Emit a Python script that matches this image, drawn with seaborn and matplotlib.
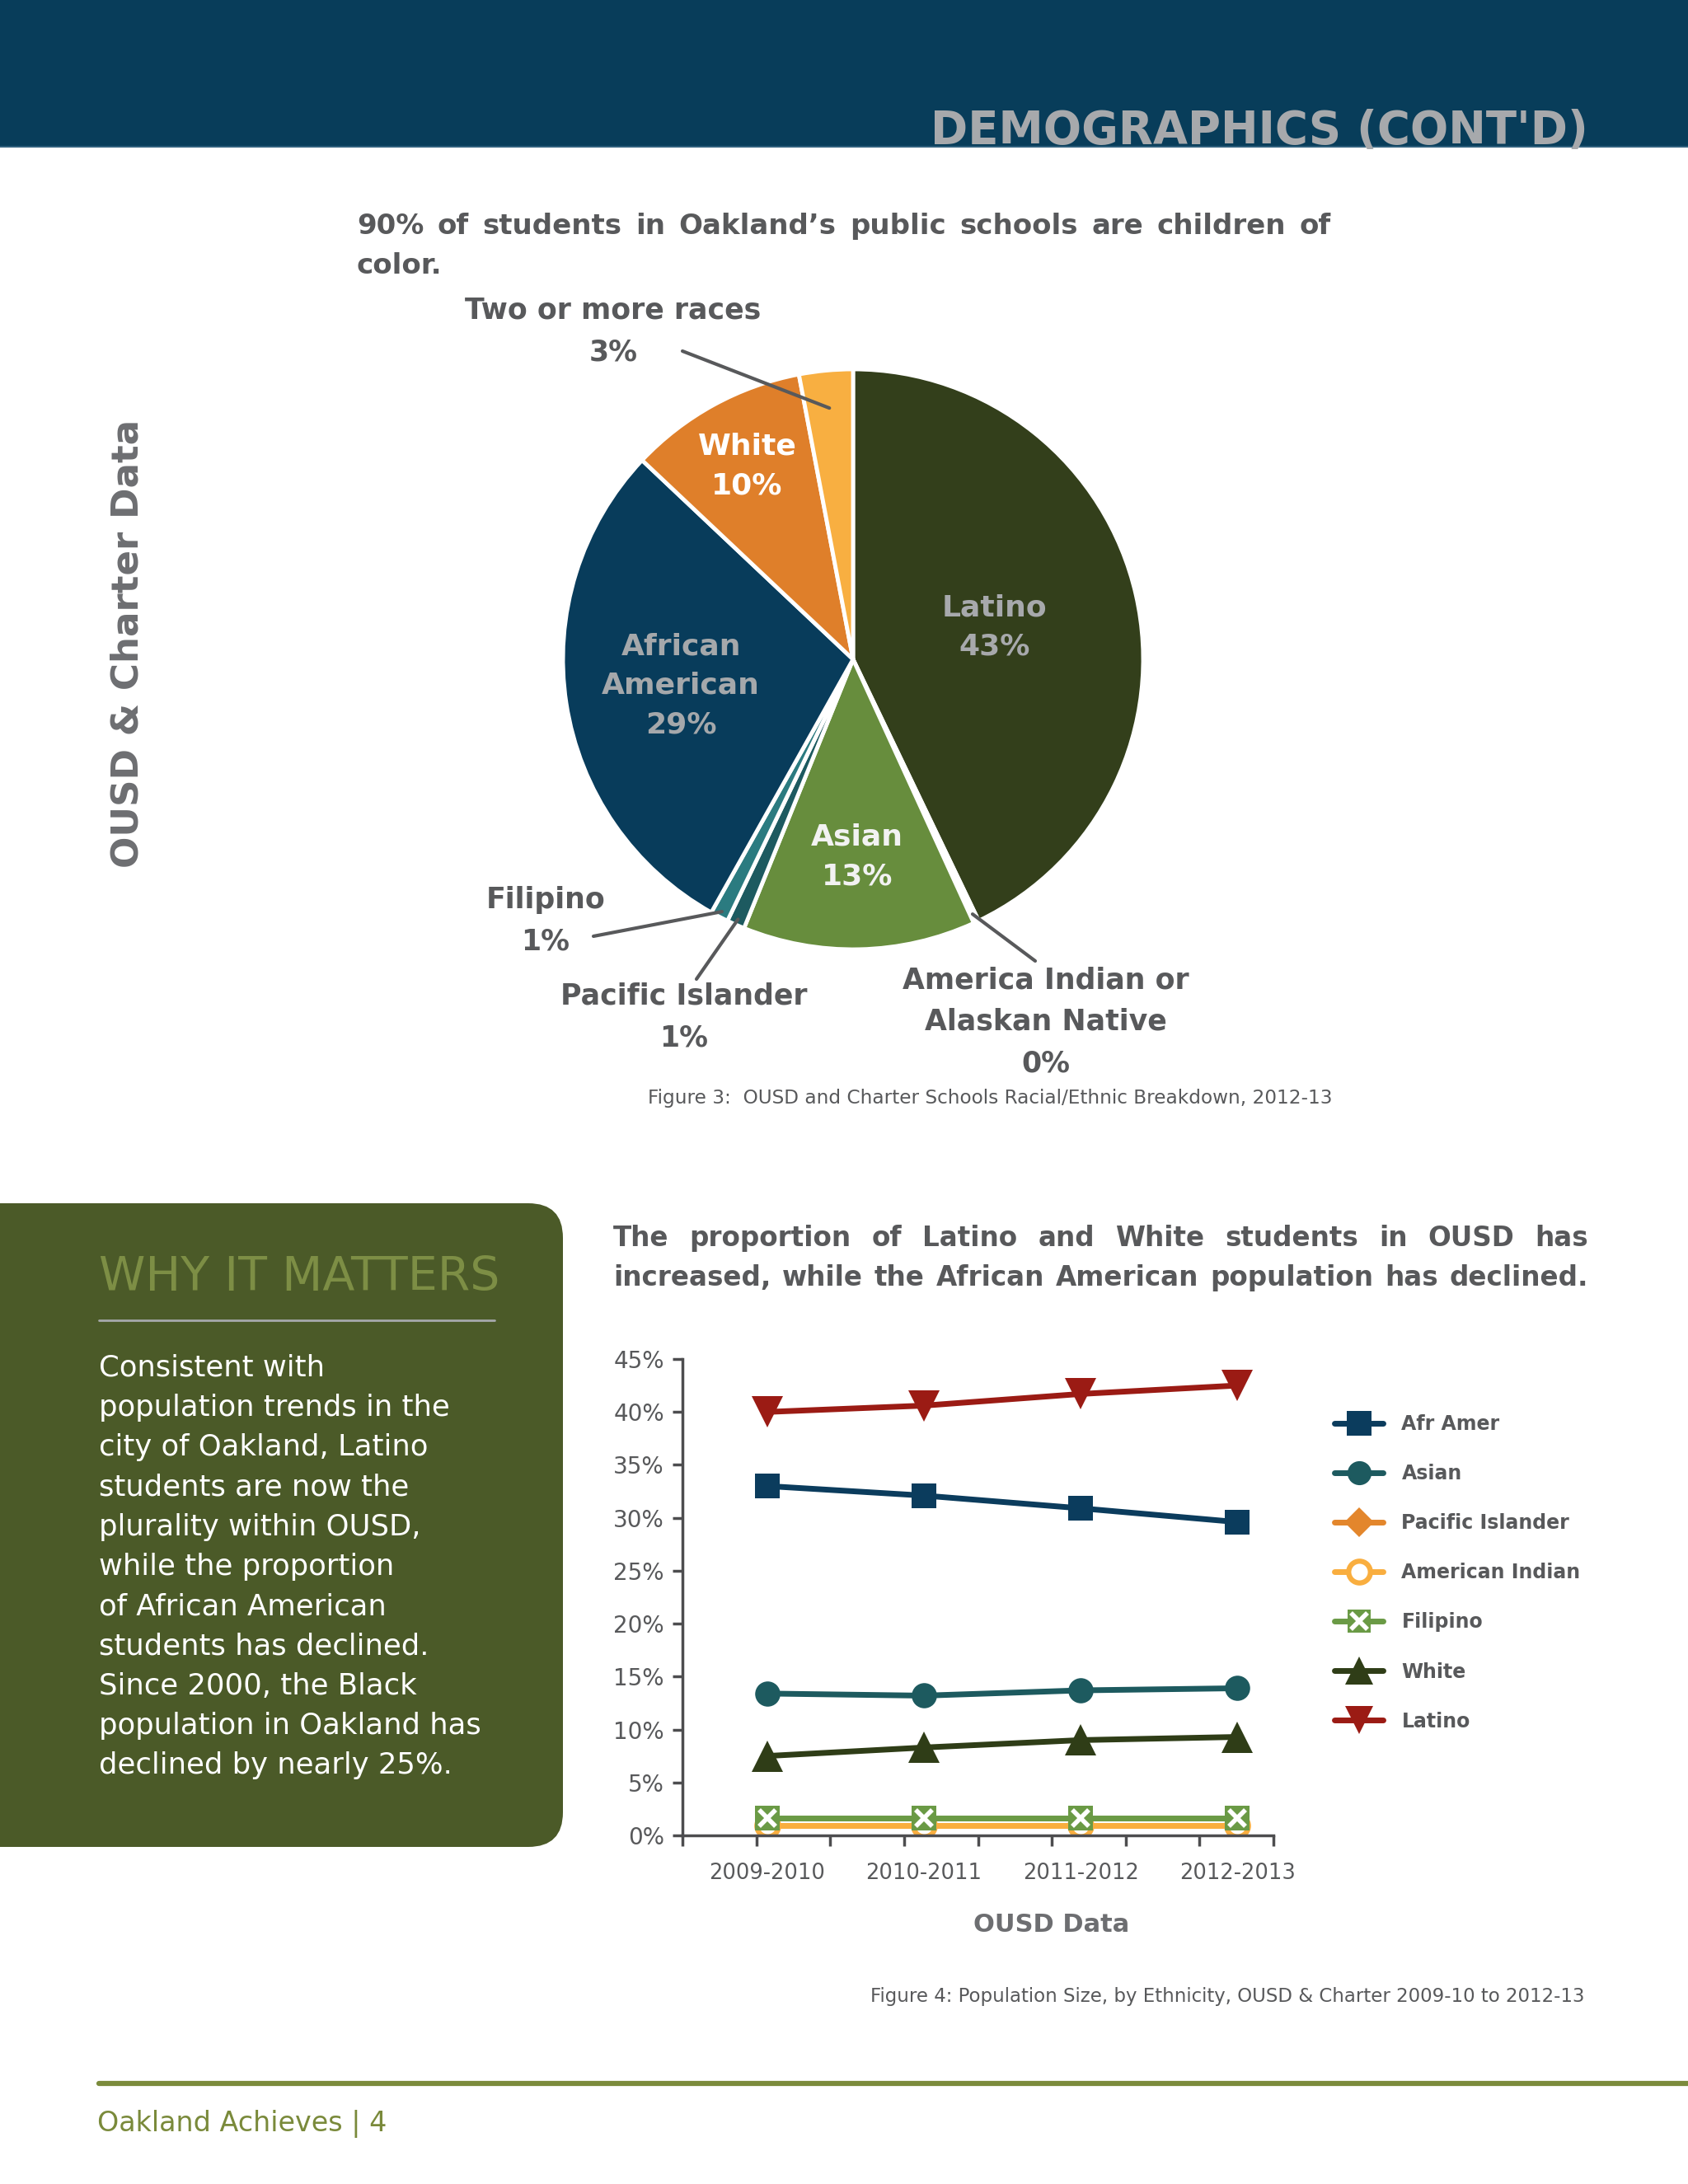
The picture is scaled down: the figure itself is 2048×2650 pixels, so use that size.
import numpy as np
import matplotlib
matplotlib.use("Agg")
import matplotlib.pyplot as plt
import seaborn as sns
from matplotlib.lines import Line2D
from matplotlib.patches import Rectangle, FancyBboxPatch
from matplotlib.transforms import IdentityTransform

W, H = 2048, 2650

# ---- pie data (2012-13 breakdown) ----
pie_names = ["Latino", "America Indian or\nAlaskan Native", "Asian", "Pacific Islander",
             "Filipino", "African\nAmerican", "White", "Two or more races"]
pie_shares = [43, 0.3, 13, 1, 1, 29, 10, 3]
pie_colors = ["#333F1B", "white", "#678D3D", "#1D5A60", "#2B7B80", "#083C5B", "#DF7F2A", "#F8AF41"]

# ---- line chart data ----
years = ["2009-2010", "2010-2011", "2011-2012", "2012-2013"]
afr_amer = [33.0, 32.1, 30.9, 29.6]
asian = [13.4, 13.2, 13.7, 13.9]
pacific_islander = [0.9, 0.9, 0.9, 0.9]
american_indian = [0.9, 0.9, 0.9, 0.9]
filipino = [1.6, 1.6, 1.6, 1.6]
white = [7.5, 8.3, 9.0, 9.3]
latino = [40.0, 40.6, 41.7, 42.5]

body_lines = ["Consistent with", "population trends in the", "city of Oakland, Latino",
              "students are now the", "plurality within OUSD,", "while the proportion",
              "of African American", "students has declined.", "Since 2000, the Black",
              "population in Oakland has", "declined by nearly 25%."]

DARK = "#58595B"
MID = "#6D6E71"
LIGHT = "#A7A9AC"
AXC = "#4D4D4F"
NARROW = ["Liberation Sans Narrow", "DejaVu Sans"]

sns.set_style("white")
plt.rcParams["font.family"] = ["DejaVu Sans"]

fig = plt.figure(figsize=(W / 100, H / 100), dpi=100, facecolor="white")
renderer = fig.canvas.get_renderer()


def fx(x):
    return x / W


def fy(y):
    return 1 - y / H


def fit_text(x, y, s, width, fs, **kw):
    t = fig.text(fx(x), fy(y), s, fontsize=fs, **kw)
    w = t.get_window_extent(renderer).width
    t.set_fontsize(fs * width / w)
    return t


def justify(words, x0, x1, y, **kw):
    texts = [fig.text(0, fy(y), w, ha="left", va="baseline", **kw) for w in words]
    widths = [t.get_window_extent(renderer).width for t in texts]
    gap = (x1 - x0 - sum(widths)) / max(len(words) - 1, 1)
    x = x0
    for t, w in zip(texts, widths):
        t.set_x(fx(x))
        x += w + gap


# header band
fig.add_artist(Rectangle((0, fy(179)), 1, 179 / H, transform=fig.transFigure,
                         color="#083D5A", lw=0))
fig.add_artist(Line2D([0, 1], [fy(178), fy(178)], color="#2F5F7C", lw=1.5,
                      transform=fig.transFigure))
fit_text(1927, 174, "DEMOGRAPHICS (CONT'D)", 798, 40, ha="right", va="baseline",
         weight="bold", color=LIGHT)

# side title
fig.text(fx(155), fy(781), "OUSD & Charter Data", rotation=90, ha="center", va="center",
         fontsize=32.5, weight="bold", color=MID)

# subtitle above pie
justify("90% of students in Oakland’s public schools are children of".split(),
        433, 1615, 284, fontsize=24.5, weight="bold", color=DARK)
fig.text(fx(433), fy(332), "color.", ha="left", va="baseline", fontsize=24.5,
         weight="bold", color=DARK)

# ---- pie ----
cx, cy, R = 1035, 800, 352
ax_pie = fig.add_axes([fx(cx - R), fy(cy + R), 2 * R / W, 2 * R / H])
wedges, _ = ax_pie.pie(pie_shares, colors=pie_colors, startangle=90, counterclock=False,
                       wedgeprops=dict(edgecolor="white", linewidth=3.5))
ax_pie.set_xlim(-1, 1)
ax_pie.set_ylim(-1, 1)
ax_pie.set_aspect("equal")


def mid_point(i, r):
    w = wedges[i]
    a = np.deg2rad((w.theta1 + w.theta2) / 2)
    return r * np.cos(a), r * np.sin(a)


# labels inside wedges
inside = {0: (0.5, LIGHT), 6: (0.76, "white"), 5: (0.6, "#A5A8AB"), 2: (0.68, "#F2F2F2")}
for i, (r, col) in inside.items():
    x, y = mid_point(i, r)
    ax_pie.text(x, y, f"{pie_names[i]}\n{round(pie_shares[i])}%", ha="center", va="center",
                fontsize=26, weight="bold", color=col, linespacing=1.5)

# labels outside with leader lines
outside = {7: ((744, 402), (828, 426), 0.87),
           4: ((662, 1117), (720, 1136), 0.98),
           3: ((830, 1234), (845, 1188), 0.98),
           1: ((1269, 1240), (1256, 1166), 0.97)}
for i, ((tx, ty), (lx, ly), r) in outside.items():
    fig.text(fx(tx), fy(ty), f"{pie_names[i]}\n{round(pie_shares[i])}%", ha="center",
             va="center", fontsize=25, weight="bold", color=DARK, linespacing=1.6)
    ax_pie.annotate("", xy=mid_point(i, r), xycoords="data", xytext=(lx, H - ly),
                    textcoords="figure pixels", annotation_clip=False,
                    arrowprops=dict(arrowstyle="-", color=DARK, lw=3, shrinkA=0, shrinkB=0))

fit_text(786, 1333, "Figure 3:  OUSD and Charter Schools Racial/Ethnic Breakdown, 2012-13",
         829, 20, ha="left", va="center", family=NARROW, color=DARK)

# ---- why it matters box ----
fig.add_artist(FancyBboxPatch((-80, H - 2241), 763, 781,
                              boxstyle="round,pad=0,rounding_size=42",
                              transform=IdentityTransform(), color="#4B5A28", lw=0))
fig.text(fx(120), fy(1551), "WHY IT MATTERS", ha="left", va="center", fontsize=41,
         color="#7D8E45")
fig.add_artist(Line2D([fx(120), fx(600)], [fy(1602), fy(1602)], color=LIGHT, lw=2,
                      transform=fig.transFigure))
for k, line in enumerate(body_lines):
    fig.text(fx(120), fy(1670 + k * 48.2), line, ha="left", va="baseline", fontsize=25.5,
             color="white")

# ---- line chart ----
justify("The proportion of Latino and White students in OUSD has".split(),
        744, 1927, 1512, fontsize=23.5, weight="bold", color=DARK)
justify("increased, while the African American population has declined.".split(),
        744, 1927, 1560, fontsize=23.5, weight="bold", color=DARK)

ax = fig.add_axes([fx(828), fy(2227), (1545 - 828) / W, (2227 - 1649) / H])
ax.patch.set_alpha(0)
xpos = list(range(len(years)))
# name, values, colour, marker, plot size, legend size, extra marker style
series = [
    ("Pacific Islander", pacific_islander, "#E3862C", "D", 13, 18, {}),
    ("American Indian", american_indian, "#F9AE3F", "o", 19, 19,
     dict(markerfacecolor="white", markeredgecolor="#F9AE3F", markeredgewidth=4.5)),
    ("Filipino", filipino, "#6A9A45", "s", 21, 20, {}),
    ("Afr Amer", afr_amer, "#0B3C5D", "s", 22, 21, {}),
    ("Asian", asian, "#1D5A5F", "o", 22, 21, {}),
    ("White", white, "#2F3D17", "^", 28, 24, {}),
    ("Latino", latino, "#9B1B14", "v", 28, 24, {}),
]
for name, vals, col, mk, ms, _, extra in series:
    kw = dict(markeredgewidth=0, markeredgecolor=col)
    kw.update(extra)
    sns.lineplot(x=xpos, y=vals, ax=ax, color=col, marker=mk, markersize=ms,
                 linewidth=5, **kw)
    if name == "Filipino":
        ax.plot(xpos, vals, linestyle="none", marker="x", markersize=15,
                markeredgewidth=4, color="white")

x0, x1 = -0.54, 3.23
ax.set_xlim(x0, x1)
ax.set_ylim(0, 45)
ax.set_xticks(xpos)
ax.set_xticklabels(years)
ax.set_xticks(np.linspace(x0, x1, 9), minor=True)
ax.set_yticks(range(0, 50, 5))
ax.set_yticklabels([f"{v}%" for v in range(0, 50, 5)])
ax.tick_params(axis="x", which="major", length=0, pad=24, labelsize=18.5, labelcolor=DARK)
ax.tick_params(axis="x", which="minor", length=9, width=2.5, color=AXC, direction="out",
               bottom=True)
ax.tick_params(axis="y", length=9, width=2.5, color=AXC, pad=7, labelsize=20,
               labelcolor=DARK, left=True)
for s in ["top", "right"]:
    ax.spines[s].set_visible(False)
for s in ["left", "bottom"]:
    ax.spines[s].set_color(AXC)
    ax.spines[s].set_linewidth(2.5)
ax.set_xlabel("")
ax.set_ylabel("")

fig.text(fx(1276), fy(2335), "OUSD Data", ha="center", va="center", fontsize=22,
         weight="bold", color=MID)

# legend
by_name = {s[0]: s for s in series}
order = ["Afr Amer", "Asian", "Pacific Islander", "American Indian", "Filipino", "White", "Latino"]
handles = []
for name in order:
    _, _, col, mk, _, lms, extra = by_name[name]
    kw = dict(markeredgewidth=0, markeredgecolor=col)
    kw.update(extra)
    h = Line2D([], [], color=col, lw=5, marker=mk, markersize=lms, **kw)
    if name == "Filipino":
        h = (h, Line2D([], [], linestyle="none", marker="x", markersize=14,
                       markeredgewidth=4, color="white"))
    handles.append(h)
fig.legend(handles, order, loc="upper left", bbox_to_anchor=(fx(1619), fy(1716)),
           frameon=False, prop=dict(size=17, weight="bold"), labelcolor=DARK,
           labelspacing=1.53, handlelength=2.5, handletextpad=0.95, borderpad=0,
           borderaxespad=0)

fit_text(1923, 2423,
         "Figure 4: Population Size, by Ethnicity, OUSD & Charter 2009-10 to 2012-13",
         869, 20, ha="right", va="center", family=NARROW, color=DARK)

# footer
fig.add_artist(Line2D([fx(120), 1], [fy(2528), fy(2528)], color="#7B8B3C", lw=4.5,
                      transform=fig.transFigure))
fig.text(fx(118), fy(2577), "Oakland Achieves | 4", ha="left", va="center", fontsize=24,
         color="#7A8A3B")

fig.savefig("out.png", dpi=100, facecolor="white")
